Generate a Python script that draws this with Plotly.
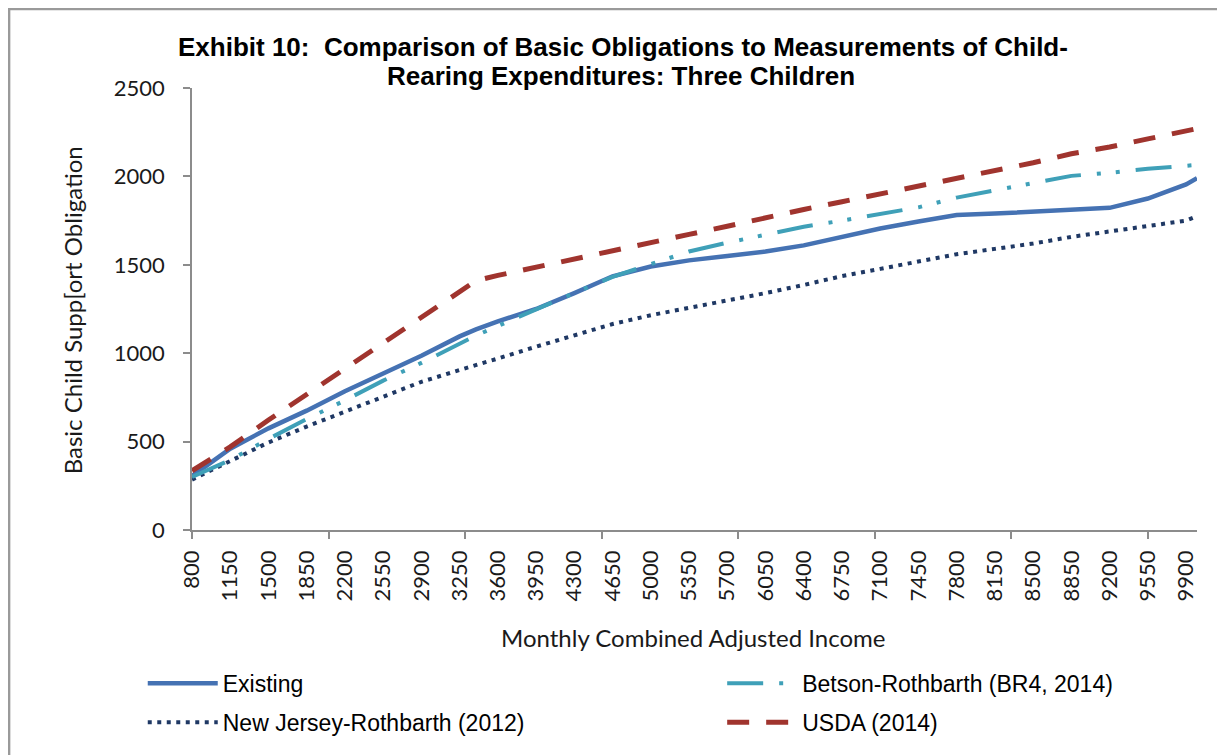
import plotly.graph_objects as go

income = [800, 1150, 1500, 1850, 2200, 2550, 2900, 3250, 3400, 3600, 3950, 4300, 4650,
          5000, 5350, 5700, 6050, 6400, 6750, 7100, 7450, 7800, 8150, 8500, 8850,
          9200, 9550, 9900, 10000]

existing = [305, 460, 575, 675, 785, 885, 985, 1095, 1135, 1180, 1250, 1340, 1435,
            1490, 1525, 1550, 1575, 1610, 1660, 1705, 1745, 1782, 1790, 1800, 1810,
            1822, 1875, 1955, 1990]
betson = [300, 396, 515, 628, 733, 845, 945, 1058, 1100, 1154, 1249, 1341, 1432,
          1505, 1575, 1625, 1672, 1715, 1750, 1785, 1825, 1880, 1920, 1965, 2003,
          2020, 2043, 2060, 2065]
new_jersey = [285, 390, 495, 585, 670, 754, 838, 905, 935, 970, 1037, 1102, 1165,
              1215, 1255, 1300, 1340, 1386, 1436, 1477, 1517, 1560, 1590, 1620, 1658,
              1690, 1722, 1750, 1775]
usda = [335, 470, 622, 766, 913, 1062, 1205, 1350, 1410, 1440, 1485, 1530, 1575,
        1625, 1672, 1718, 1768, 1813, 1857, 1900, 1945, 1990, 2034, 2077, 2128,
        2166, 2212, 2258, 2270]

tick_labels = list(range(800, 10000, 350))

AXIS_GREY = "#8c8c8c"
TICK_FONT = dict(family="Lato, Open Sans, sans-serif", size=22, color="#1a1a1a")
LEG_FONT = dict(family="Liberation Sans, Arial, sans-serif", size=23, color="#000000")
TITLE_FONT = dict(family="Liberation Sans, Arial, sans-serif", size=26, color="#000000")

fig = go.Figure()

fig.add_trace(go.Scatter(x=income, y=existing, mode="lines", name="Existing",
                         line=dict(color="#4572B3", width=4.5),
                         legend="legend", legendgroup="a"))
fig.add_trace(go.Scatter(x=income, y=new_jersey, mode="lines", name="New Jersey-Rothbarth (2012)",
                         line=dict(color="#1F3864", width=4, dash="4px,5.5px"),
                         legend="legend", legendgroup="b"))
fig.add_trace(go.Scatter(x=income, y=betson, mode="lines", name="Betson-Rothbarth (BR4, 2014)",
                         line=dict(color="#3FA0B8", width=4,
                                   dash="36px,16px,4px,15px,4px,16px"),
                         legend="legend2", legendgroup="c"))
fig.add_trace(go.Scatter(x=income, y=usda, mode="lines", name="USDA (2014)",
                         line=dict(color="#A0342E", width=5, dash="22px,17px"),
                         legend="legend2", legendgroup="d"))

# page offsets the figure by 8px; plot area lands at x 192..1197, y 88..530 on screen
fig.update_layout(
    width=1225, height=755,
    margin=dict(l=184, r=36, t=80, b=233, autoexpand=False),
    paper_bgcolor="white", plot_bgcolor="white",
    xaxis=dict(
        range=[800, 10000], automargin=False,
        tickmode="array", tickvals=tick_labels, ticktext=[str(v) for v in tick_labels],
        tickangle=-90, ticks="", showgrid=False, zeroline=False,
        showline=True, linecolor=AXIS_GREY, linewidth=1.5,
        tickfont=TICK_FONT, ticklabelstandoff=10,
        minor=dict(ticks="outside", tick0=800, dtick=1250, ticklen=7,
                   tickcolor=AXIS_GREY, tickwidth=1.5, showgrid=False),
    ),
    yaxis=dict(
        range=[0, 2500], dtick=500, ticks="outside", ticklen=7, automargin=False,
        tickcolor=AXIS_GREY, tickwidth=1.5, showgrid=False, zeroline=False,
        showline=True, linecolor=AXIS_GREY, linewidth=1.5,
        tickfont=TICK_FONT, ticklabelstandoff=14,
    ),
    legend=dict(xref="container", yref="container", x=0.11, y=0.134,
                xanchor="left", yanchor="top",
                font=LEG_FONT, itemwidth=70, tracegroupgap=6,
                bgcolor="rgba(0,0,0,0)"),
    legend2=dict(xref="container", yref="container", x=0.583, y=0.134,
                 xanchor="left", yanchor="top",
                 font=LEG_FONT, itemwidth=70, tracegroupgap=6,
                 bgcolor="rgba(0,0,0,0)"),
    showlegend=True,
)

fig.add_annotation(
    text="<b>Exhibit 10:  Comparison of Basic Obligations to Measurements of Child-</b>",
    xref="paper", yref="paper", x=0.429, y=(530 - 47) / 442, showarrow=False,
    font=TITLE_FONT, xanchor="center", yanchor="middle",
)
fig.add_annotation(
    text="<b>Rearing Expenditures: Three Children</b>",
    xref="paper", yref="paper", x=0.427, y=(530 - 76) / 442, showarrow=False,
    font=TITLE_FONT, xanchor="center", yanchor="middle",
)
fig.add_annotation(
    text="Basic Child Supp[ort Obligation", textangle=-90,
    xref="paper", yref="paper", x=-0.119, y=0.498, showarrow=False,
    font=dict(family="Lato, Open Sans, sans-serif", size=24, color="#1a1a1a"),
    xanchor="center", yanchor="middle",
)
fig.add_annotation(
    text="Monthly Combined Adjusted Income",
    xref="paper", yref="paper", x=0.4985, y=-0.244, showarrow=False,
    font=dict(family="Lato, Open Sans, sans-serif", size=24, color="#1a1a1a"),
    xanchor="center", yanchor="middle",
)

# chart area border and page edge line
fig.add_shape(type="rect", xref="paper", yref="paper",
              x0=-0.182, x1=1.025, y0=-0.56, y1=1.179,
              line=dict(color="#9a9a9a", width=2.5), layer="below")
fig.add_shape(type="line", xref="paper", yref="paper",
              x0=-0.2, x1=1.03, y0=(530 - 1) / 442, y1=(530 - 1) / 442,
              line=dict(color="#9a9a9a", width=2), layer="below")

fig.write_html("out.html")
